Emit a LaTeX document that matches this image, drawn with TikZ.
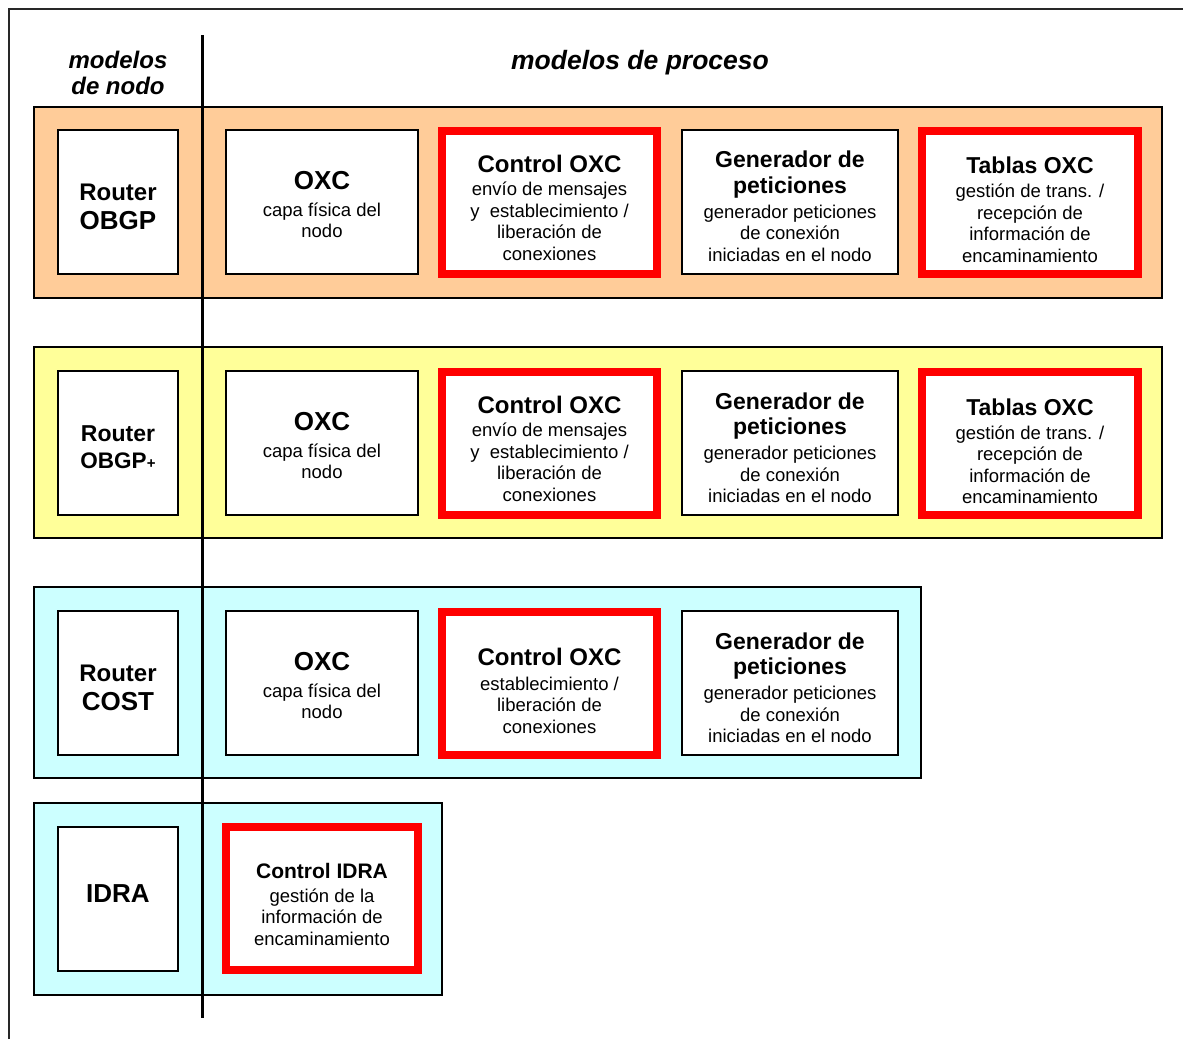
\documentclass[tikz,border=0pt]{standalone}
\usepackage{fontspec}
\setmainfont{Liberation Sans}
\definecolor{bandorange}{RGB}{255,204,153}
\definecolor{bandyellow}{RGB}{255,255,153}
\definecolor{bandcyan}{RGB}{204,255,255}
\definecolor{framegray}{RGB}{40,40,40}
\newcommand{\bodyfont}{\fontsize{18.5}{21.5}\selectfont}
\newcommand{\ttl}[2]{{\fontsize{#1}{#1}\selectfont\bfseries #2}}
\begin{document}
\begin{tikzpicture}[x=1pt,y=-1pt,
  band/.style={draw=black, line width=1.6pt, inner sep=0pt},
  mbox/.style={draw=black, fill=white, line width=1.8pt, inner sep=0pt, minimum height=144pt},
  redbox/.style={mbox, draw=red, line width=8pt, minimum height=143.5pt},
  lbl/.style={align=center, font=\bodyfont, inner sep=0pt},
  hdr/.style={font=\fontsize{24}{26}\selectfont\bfseries\itshape, align=center, inner sep=0pt}]
\useasboundingbox (0,0) rectangle (1183,1039);

% outer frame (open to the right and bottom)
\draw[framegray, line width=1.6pt] (9,1039) -- (9,9) -- (1183,9);

% column headers
\node[hdr] (hnodo) at (118,73) {modelos\\de nodo};
\node[hdr, font=\fontsize{26.5}{28}\selectfont\bfseries\itshape] (hproc) at (640,63) {modelos de proceso};

% background bands
\node[band, fill=bandorange, minimum width=1128pt, minimum height=191pt] (row1) at (598,202.5) {};
\node[band, fill=bandyellow, minimum width=1128pt, minimum height=191pt] (row2) at (598,442.5) {};
\node[band, fill=bandcyan, minimum width=887pt, minimum height=191pt] (row3) at (477.5,682.5) {};
\node[band, fill=bandcyan, minimum width=408pt, minimum height=192pt] (row4) at (238,899) {};

% separator between node models and process models
\coordinate (septop) at (202,35);
\coordinate (sepbot) at (202,1018);
\draw[black, line width=3pt] (septop) -- (sepbot);

% boxes of each row
\foreach \r/\y in {1/202, 2/443, 3/683} {
  \node[mbox, minimum width=120pt] (r\r a) at (118,\y) {};
  \node[mbox, minimum width=192pt] (r\r b) at (322,\y) {};
  \node[redbox, minimum width=215pt] (r\r c) at (549.5,\y+0.5) {};
  \node[mbox, minimum width=216pt] (r\r d) at (790,\y) {};
}
\node[redbox, minimum width=216pt] (r1e) at (1030,202.5) {};
\node[redbox, minimum width=216pt] (r2e) at (1030,443.5) {};
\node[mbox, minimum width=120pt] (r4a) at (118,899) {};
\node[redbox, minimum width=192pt] (r4b) at (322,898.5) {};

% box texts: process boxes repeated in the first three rows
\foreach \r in {1,2,3} {
  \node[lbl] (r\r b-t) at ([yshift=-3pt]r\r b.center)
    {\ttl{26}{OXC}\\[5pt]capa física del\\nodo};
  \node[lbl] (r\r d-t) at ([yshift=-4.5pt]r\r d.center)
    {\ttl{23}{Generador de}\\[4pt]\ttl{23}{peticiones}\\[3.5pt]generador peticiones\\de conexión\\iniciadas en el nodo};
}
\foreach \r in {1,2} {
  \node[lbl] (r\r c-t) at ([yshift=-5pt]r\r c.center)
    {\ttl{24}{Control OXC}\\[2pt]envío de mensajes\\y~ establecimiento /\\liberación de\\conexiones};
  \node[lbl] (r\r e-t) at ([yshift=-7.5pt]r\r e.center)
    {\ttl{23}{Tablas OXC}\\[2.5pt]gestión de trans. /\\recepción de\\información de\\encaminamiento};
}
\node[lbl] (r3c-t) at ([yshift=-7pt]r3c.center)
  {\ttl{24}{Control OXC}\\[3.5pt]establecimiento /\\liberación de\\conexiones};

% node-model names
\node[lbl] (r1a-t) at ([yshift=-4.5pt]r1a.center) {\ttl{24}{Router}\\[7.5pt]\ttl{26}{OBGP}};
\node[lbl] (r2a-t) at ([yshift=-4.5pt]r2a.center)
  {\ttl{23}{Router}\\[5.5pt]{\fontsize{22.5}{22.5}\selectfont\bfseries OBGP{\fontsize{15}{15}\selectfont+}}};
\node[lbl] (r3a-t) at ([yshift=-4.5pt]r3a.center) {\ttl{24}{Router}\\[7.5pt]\ttl{26}{COST}};
\node[lbl] (r4a-t) at ([yshift=5pt]r4a.center) {\ttl{26}{IDRA}};

% IDRA control box
\node[lbl] (r4b-t) at ([yshift=-5.5pt]r4b.center)
  {\ttl{21}{Control IDRA}\\[2.5pt]gestión de la\\información de\\encaminamiento};
\end{tikzpicture}
\end{document}
